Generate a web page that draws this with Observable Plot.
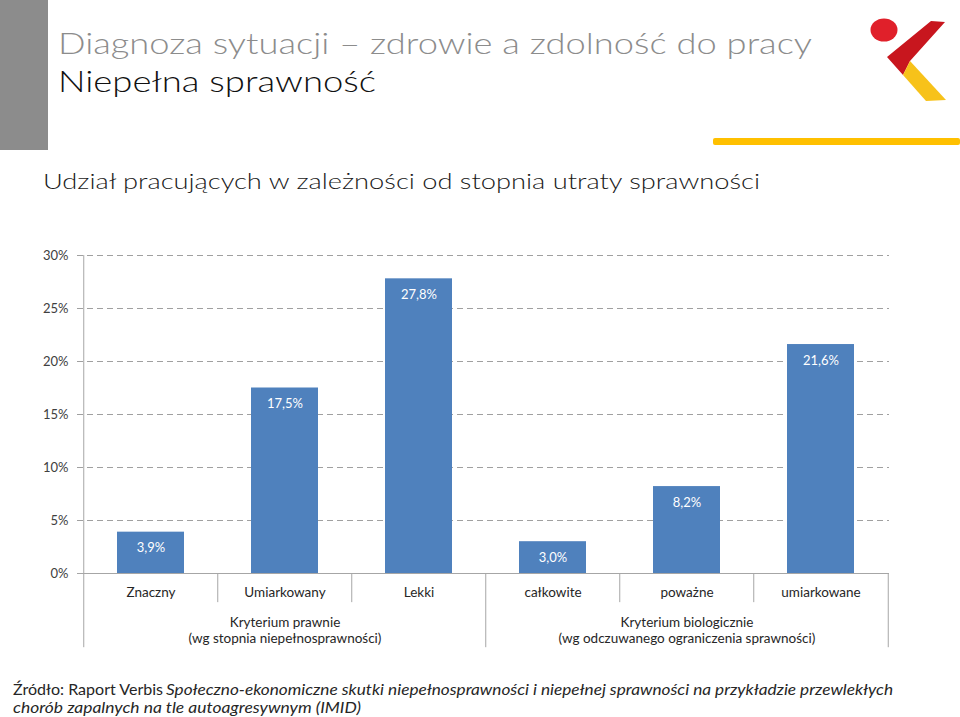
<!DOCTYPE html>
<html>
<head>
<meta charset="utf-8">
<script src="https://cdn.jsdelivr.net/npm/d3@7"></script>
<script src="https://cdn.jsdelivr.net/npm/@observablehq/plot@0.6"></script>
<style>
  html, body { margin: 0; padding: 0; background: #fff; }
  #page { position: relative; width: 960px; height: 717px; overflow: hidden; background: #fff; }
  #header, #footer, #chart { position: absolute; left: 0; }
  #header { top: 0; }
  #chart { top: 240px; }
  #footer { top: 660px; }
  text { font-family: Lato, "Open Sans", sans-serif; }
</style>
</head>
<body>
<div id="page">
  <svg id="header" width="960" height="240" xmlns="http://www.w3.org/2000/svg">
    <rect x="0" y="0" width="48" height="150" fill="#8c8c8c"></rect>
    <text x="58" y="54" font-size="29" font-weight="300" fill="#8c8c8c" textLength="754" lengthAdjust="spacingAndGlyphs">Diagnoza sytuacji – zdrowie a zdolność do pracy</text>
    <text x="58" y="92" font-size="29" font-weight="300" fill="#111" textLength="318" lengthAdjust="spacingAndGlyphs">Niepełna sprawność</text>
    <ellipse cx="884" cy="30" rx="13.5" ry="11.5" fill="#e0202a"></ellipse>
    <path d="M931,21 L945,22 L910,61 L903,75 L887,57 Z" fill="#c8161e"></path>
    <path d="M910,61 L946,100 L926,101 L903,75 Z" fill="#f7c21a"></path>
    <rect x="713" y="138" width="247" height="7" rx="2" fill="#ffc000"></rect>
    <text x="43" y="189" font-size="21.5" font-weight="300" fill="#1a1a1a" textLength="717" lengthAdjust="spacingAndGlyphs">Udział pracujących w zależności od stopnia utraty sprawności</text>
  </svg>
  <div id="chart"></div>
  <svg id="footer" width="960" height="57" xmlns="http://www.w3.org/2000/svg">
    <text x="13" y="35" font-size="15" fill="#262626" textLength="150" lengthAdjust="spacingAndGlyphs">Źródło: Raport Verbis</text>
    <text x="166" y="35" font-size="15" font-style="italic" fill="#262626" textLength="727" lengthAdjust="spacingAndGlyphs">Społeczno-ekonomiczne skutki niepełnosprawności i niepełnej sprawności na przykładzie przewlekłych</text>
    <text x="13" y="53" font-size="15" font-style="italic" fill="#262626" textLength="348" lengthAdjust="spacingAndGlyphs">chorób zapalnych na tle autoagresywnym (IMID)</text>
  </svg>
</div>
<script>
// ---- data ----
const categories = ["Znaczny", "Umiarkowany", "Lekki", "całkowite", "poważne", "umiarkowane"];
const values = [3.9, 17.5, 27.8, 3.0, 8.2, 21.6];
const yTicks = [0, 5, 10, 15, 20, 25, 30];
const groupLabels = ["Kryterium prawnie\n(wg stopnia niepełnosprawności)", "Kryterium biologicznie\n(wg odczuwanego ograniczenia sprawności)"];
const groupCenters = ["Umiarkowany", "poważne"];
const shortSeparators = ["Umiarkowany", "Lekki", "poważne", "umiarkowane"];
const longSeparators = ["Znaczny", "całkowite"];

const data = categories.map((c, i) => ({category: c, value: values[i]}));
const groups = groupLabels.map((g, i) => ({label: g, center: groupCenters[i]}));

const W = 960, H = 420, mL = 82, mR = 71, mT = 15, mB = 87;
const half = (W - mL - mR) / categories.length / 2;
const axisColor = "#a6a6a6";
const fmt = (v) => v.toFixed(1).replace(".", ",") + "%";

const chart = Plot.plot({
  width: W,
  height: H,
  marginLeft: mL,
  marginRight: mR,
  marginTop: mT,
  marginBottom: mB,
  style: {fontFamily: "Lato, 'Open Sans', sans-serif", background: "transparent", overflow: "visible"},
  x: {domain: categories, paddingInner: 0.5, paddingOuter: 0.25, axis: null},
  y: {domain: [0, 30], axis: null},
  marks: [
    Plot.gridY(yTicks.filter(d => d > 0), {stroke: "#a0a0a0", strokeOpacity: 1, strokeDasharray: "6,4", insetLeft: -5}),
    Plot.axisY(yTicks, {label: null, tickSize: 0, tickPadding: 14, tickFormat: d => d + "%", fontSize: 13, fill: "#404040"}),
    Plot.barY(data, {x: "category", y: "value", fill: "#4f81bd"}),
    Plot.ruleY([0], {stroke: axisColor, insetLeft: -5}),
    Plot.ruleX(longSeparators, {x: d => d, y1: -7, y2: d => d === "Znaczny" ? 30 : 0, dx: -half, stroke: axisColor}),
    Plot.ruleX(categories.slice(-1), {x: d => d, y1: -7, y2: 0, dx: half, stroke: axisColor}),
    Plot.ruleX(shortSeparators, {x: d => d, y1: -2.75, y2: 0, dx: -half, stroke: axisColor}),
    Plot.text(data, {x: "category", y: "value", text: d => fmt(d.value), fill: "#ffffff", dy: 16, fontSize: 13}),
    Plot.text(categories, {x: d => d, y: 0, text: d => d, dy: 19, fontSize: 13.5, fill: "#262626"}),
    Plot.text(groups, {x: "center", y: 0, text: "label", dy: 56, fontSize: 13.5, lineHeight: 1.19, fill: "#262626"})
  ]
});
document.getElementById("chart").appendChild(chart);
</script>
</body>
</html>
